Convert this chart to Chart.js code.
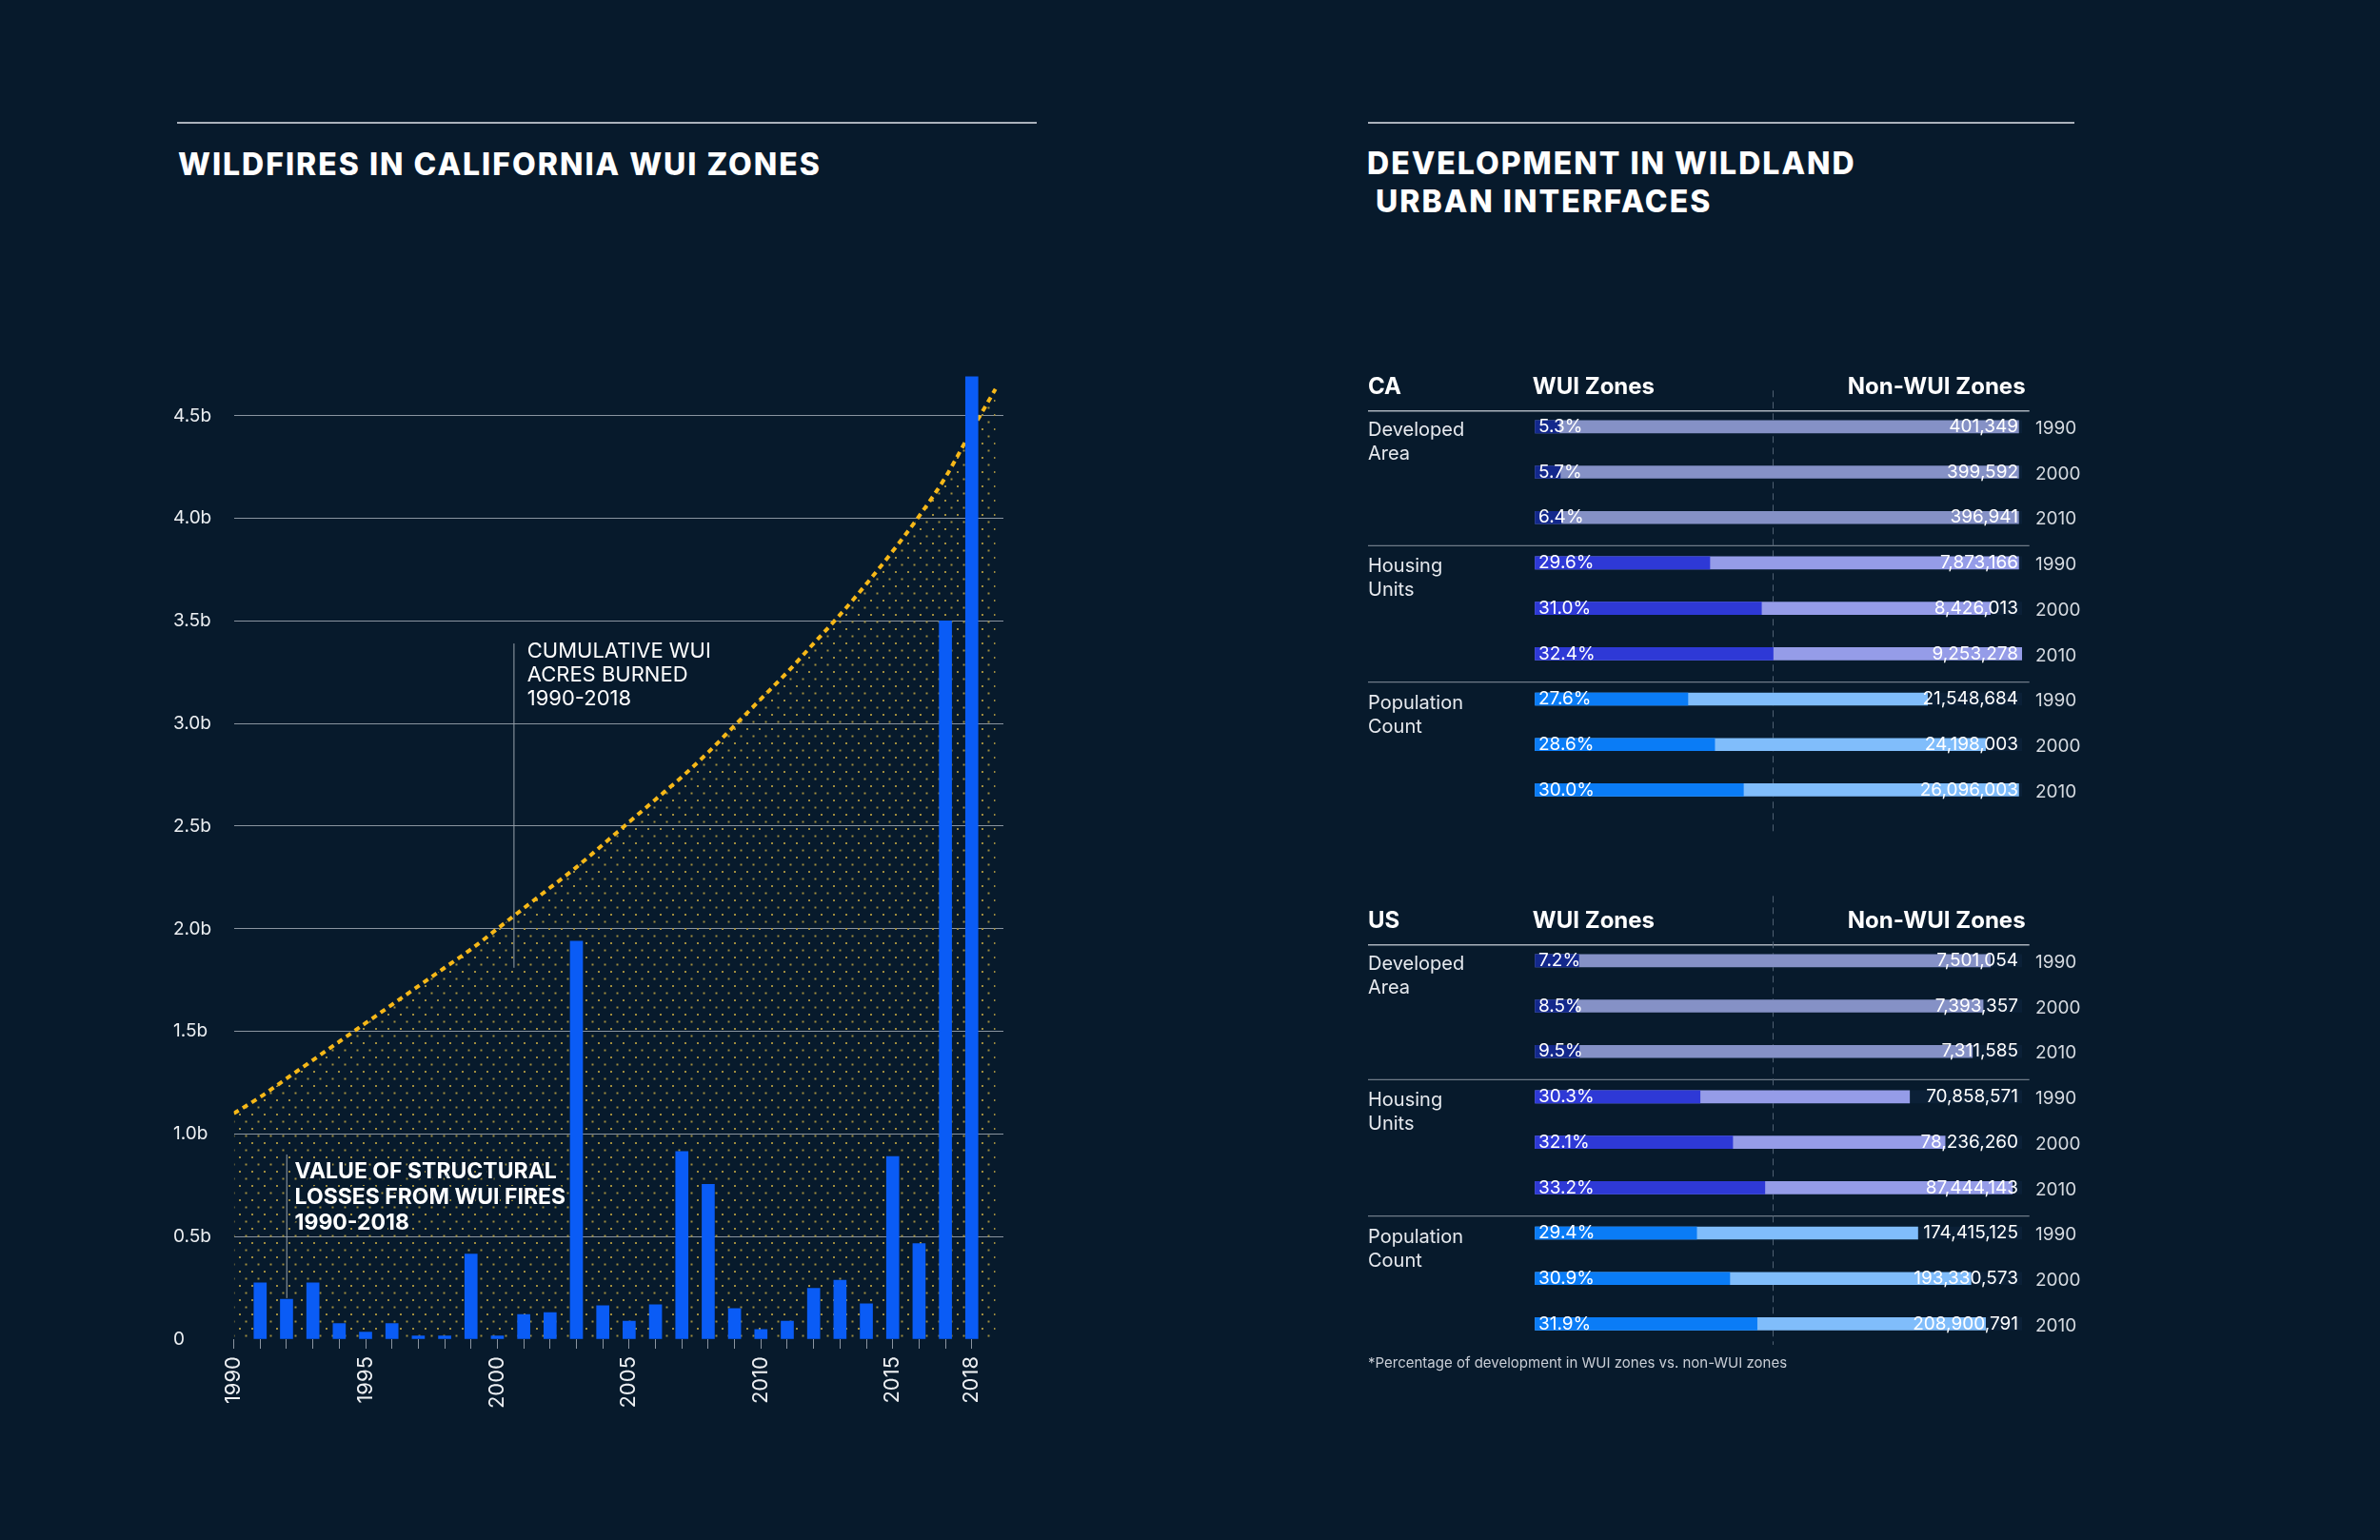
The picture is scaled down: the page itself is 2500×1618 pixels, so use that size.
<!DOCTYPE html>
<html>
<head>
<meta charset="utf-8">
<script src="https://cdn.jsdelivr.net/npm/chart.js@4.4.1/dist/chart.umd.min.js"></script>
<style>
  body { margin: 0; background: #071a2c; width: 2500px; height: 1618px; position: relative; overflow: hidden; font-family: Inter, "Noto Sans", sans-serif; }
  .rule { position: absolute; height: 2px; background: #aab2bc; }
  .title { position: absolute; color: #fff; font-weight: 800; font-size: 32px; letter-spacing: 2px; line-height: 40px; white-space: pre; }
  .box { position: absolute; }
  .note { position: absolute; color: #c9ced6; font-size: 15px; line-height: 18px; }
</style>
</head>
<body>
<div class="rule" style="left:186px;top:128px;width:903px"></div>
<div class="title" style="left:187px;top:153px">WILDFIRES IN CALIFORNIA WUI ZONES</div>
<div class="rule" style="left:1437px;top:128px;width:742px"></div>
<div class="title" style="left:1436px;top:152px">DEVELOPMENT IN WILDLAND
 URBAN INTERFACES</div>

<div class="box" style="left:160px;top:360px"><canvas id="lossChart" width="920" height="1140"></canvas></div>
<div class="box" style="left:1420px;top:380px"><canvas id="caChart" width="800" height="500"></canvas></div>
<div class="box" style="left:1420px;top:941px"><canvas id="usChart" width="800" height="500"></canvas></div>
<div class="note" style="left:1437px;top:1423px">*Percentage of development in WUI zones vs. non-WUI zones</div>

<script>
// ---- left chart data (values in billions) ----
const lossYears = [1991, 1992, 1993, 1994, 1995, 1996, 1997, 1998, 1999, 2000, 2001, 2002, 2003, 2004,
  2005, 2006, 2007, 2008, 2009, 2010, 2011, 2012, 2013, 2014, 2015, 2016, 2017, 2018];
const lossValues = [0.275, 0.194, 0.275, 0.076, 0.034, 0.076, 0.016, 0.016, 0.415, 0.016, 0.12, 0.13, 1.94, 0.163,
  0.088, 0.168, 0.915, 0.755, 0.149, 0.047, 0.088, 0.248, 0.287, 0.172, 0.89, 0.466, 3.50, 4.69];
const curveYears = [1990, 1991, 1992, 1993, 1994, 1995, 1996, 1997, 1998, 1999, 2000, 2001, 2002, 2003, 2004,
  2005, 2006, 2007, 2008, 2009, 2010, 2011, 2012, 2013, 2014, 2015, 2016, 2017, 2018, 2018.9];
const curveValues = [1.10, 1.18, 1.27, 1.36, 1.45, 1.54, 1.63, 1.72, 1.81, 1.90, 2.00, 2.10, 2.20, 2.30, 2.41,
  2.52, 2.63, 2.74, 2.86, 2.99, 3.12, 3.25, 3.39, 3.53, 3.68, 3.84, 4.01, 4.20, 4.43, 4.63];
const yTickValues = [0, 0.5, 1.0, 1.5, 2.0, 2.5, 3.0, 3.5, 4.0, 4.5];
const yTickLabels = ["0", "0.5b", "1.0b", "1.5b", "2.0b", "2.5b", "3.0b", "3.5b", "4.0b", "4.5b"];
const tickYears = [1990, ...lossYears];
const xLabelYears = [1990, 1995, 2000, 2005, 2010, 2015, 2018];

// ---- right panel data ----
const groupNames = [["Developed", "Area"], ["Housing", "Units"], ["Population", "Count"]];
const rowYears = ["1990", "2000", "2010", "1990", "2000", "2010", "1990", "2000", "2010"];
const caPct = [5.3, 5.7, 6.4, 29.6, 31.0, 32.4, 27.6, 28.6, 30.0];
const caNonWui = [401349, 399592, 396941, 7873166, 8426013, 9253278, 21548684, 24198003, 26096003];
const caWuiBar = [5.0, 5.2, 5.4, 35.9, 46.5, 48.9, 31.4, 36.9, 42.8];
const caNonBar = [99.3, 99.3, 99.3, 99.3, 93.5, 100, 80.6, 92.5, 99.3];
const usPct = [7.2, 8.5, 9.5, 30.3, 32.1, 33.2, 29.4, 30.9, 31.9];
const usNonWui = [7501054, 7393357, 7311585, 70858571, 78236260, 87444143, 174415125, 193330573, 208900791];
const usWuiBar = [9.0, 8.5, 9.1, 33.9, 40.6, 47.2, 33.2, 40.0, 45.6];
const usNonBar = [93.5, 92.0, 89.8, 76.9, 84.2, 98.0, 78.6, 89.5, 92.5];

Chart.defaults.font.family = 'Inter, "Noto Sans", sans-serif';
const FONT = 'Inter, "Noto Sans", sans-serif';

function dotPattern() {
  const c = document.createElement("canvas");
  c.width = 13; c.height = 15;
  const g = c.getContext("2d");
  g.fillStyle = "#a08d3e";
  g.fillRect(0, 0, 2, 2);
  g.fillRect(6.5, 7.5, 2, 2);
  return g.createPattern(c, "repeat");
}

const leftNotes = {
  id: "leftNotes",
  afterDatasetsDraw(chart) {
    const { ctx, scales: { x, y } } = chart;
    ctx.save();
    ctx.strokeStyle = "#9aa3ad";
    ctx.lineWidth = 1;
    ctx.beginPath();
    ctx.moveTo(x.getPixelForValue(2000.63), y.getPixelForValue(3.39));
    ctx.lineTo(x.getPixelForValue(2000.63), y.getPixelForValue(1.81));
    ctx.moveTo(x.getPixelForValue(1992.01), y.getPixelForValue(0.90));
    ctx.lineTo(x.getPixelForValue(1992.01), y.getPixelForValue(0.20));
    ctx.stroke();

    ctx.textBaseline = "middle";
    ctx.textAlign = "left";
    ctx.fillStyle = "#ffffff";
    ctx.font = "22px " + FONT;
    ["CUMULATIVE WUI", "ACRES BURNED", "1990-2018"].forEach((t, i) => {
      ctx.fillText(t, x.getPixelForValue(2001.13), y.getPixelForValue(3.352 - i * 0.116));
    });

    ctx.font = "bold 23px " + FONT;
    ctx.lineWidth = 4;
    ctx.strokeStyle = "#071a2c";
    ["VALUE OF STRUCTURAL", "LOSSES FROM WUI FIRES", "1990-2018"].forEach((t, i) => {
      const px = x.getPixelForValue(1992.31), py = y.getPixelForValue(0.818 - i * 0.126);
      ctx.strokeText(t, px, py);
      ctx.fillText(t, px, py);
    });
    ctx.restore();
  }
};

new Chart(document.getElementById("lossChart"), {
  type: "bar",
  data: {
    datasets: [
      {
        type: "bar",
        label: "Value of structural losses",
        data: lossYears.map((yr, i) => ({ x: yr, y: lossValues[i] })),
        backgroundColor: "#0a5cf6",
        barThickness: 13
      },
      {
        type: "line",
        label: "Cumulative WUI acres burned",
        data: curveYears.map((yr, i) => ({ x: yr, y: curveValues[i] })),
        borderColor: "#f7b818",
        borderWidth: 4,
        borderDash: [6, 5],
        cubicInterpolationMode: "monotone",
        pointRadius: 0,
        fill: "origin",
        backgroundColor: dotPattern()
      }
    ]
  },
  options: {
    responsive: false,
    animation: false,
    layout: { padding: { left: 22, right: 26, top: 12.1, bottom: 13 } },
    plugins: { legend: { display: false }, tooltip: { enabled: false } },
    scales: {
      x: {
        type: "linear",
        min: 1990,
        max: 2019.2,
        offset: false,
        afterBuildTicks: s => { s.ticks = tickYears.map(v => ({ value: v })); },
        afterFit: s => { s.height = 80; },
        grid: { offset: false, drawOnChartArea: false, drawTicks: true, tickLength: 10, color: "#8a94a0" },
        border: { display: false },
        ticks: {
          autoSkip: false, minRotation: 90, maxRotation: 90, padding: 8,
          color: "#eef0f3", font: { size: 22 },
          callback: v => xLabelYears.includes(v) ? String(v) : ""
        }
      },
      y: {
        min: 0,
        max: 4.8,
        afterBuildTicks: s => { s.ticks = yTickValues.map(v => ({ value: v })); },
        afterFit: s => { s.width = 63.6; },
        grid: { color: c => c.tick && c.tick.value === 0 ? "rgba(0,0,0,0)" : "#8a94a0", drawTicks: false, lineWidth: 1 },
        border: { display: false },
        ticks: { crossAlign: "far", padding: 0, color: "#eceff2", font: { size: 19 }, callback: (v, i) => yTickLabels[i] }
      }
    }
  },
  plugins: [leftNotes]
});

// ---- right panel ----
const darkColors = ["#13288c", "#13288c", "#13288c", "#2e39d6", "#2e39d6", "#2e39d6", "#0a7cf6", "#0a7cf6", "#0a7cf6"];
const lightColors = ["#8591c6", "#8591c6", "#8591c6", "#959ce8", "#959ce8", "#959ce8", "#80bdfb", "#80bdfb", "#80bdfb"];

const panelPlugin = {
  id: "panel",
  beforeDatasetsDraw(chart, args, o) {
    const { ctx, scales: { x, y } } = chart;
    const r0 = y.getPixelForValue(0), r8 = y.getPixelForValue(8);
    const left = x.getPixelForValue(0) - 175.3, right = x.getPixelForValue(100) + 7.7;
    ctx.save();
    ctx.strokeStyle = "#aab2bc";
    ctx.lineWidth = 1.5;
    ctx.beginPath();
    ctx.moveTo(left, r0 - 16.6); ctx.lineTo(right, r0 - 16.6);
    ctx.stroke();
    ctx.strokeStyle = "#6f7b88";
    ctx.lineWidth = 1.2;
    ctx.beginPath();
    [3, 6].forEach(i => {
      const yy = y.getPixelForValue(i) - 18;
      ctx.moveTo(left, yy); ctx.lineTo(right, yy);
    });
    ctx.stroke();
    const dx = Math.round(x.getPixelForValue(48.85)) + 0.5;
    ctx.setLineDash([7, 5]);
    ctx.strokeStyle = "#4f6072";
    ctx.lineWidth = 1;
    ctx.beginPath();
    ctx.moveTo(dx, r0 + o.dashTop); ctx.lineTo(dx, r8 + o.dashBottom);
    ctx.stroke();
    ctx.restore();
  },
  afterDatasetsDraw(chart, args, o) {
    const { ctx, scales: { x, y } } = chart;
    const r0 = y.getPixelForValue(0);
    const x0 = x.getPixelForValue(0), x100 = x.getPixelForValue(100);
    const left = x0 - 175.3;
    ctx.save();
    ctx.textBaseline = "middle";
    ctx.fillStyle = "#ffffff";
    ctx.font = "bold 24px " + FONT;
    ctx.textAlign = "left";
    ctx.fillText(o.region, left, r0 - 41.6);
    ctx.fillText("WUI Zones", x0 - 2.5, r0 - 41.6);
    ctx.textAlign = "right";
    ctx.fillText("Non-WUI Zones", x100 + 3.6, r0 - 41.6);

    ctx.textAlign = "left";
    ctx.fillStyle = "#e6e9ee";
    ctx.font = "20px " + FONT;
    groupNames.forEach((g, i) => {
      const yy = y.getPixelForValue(i * 3);
      ctx.fillText(g[0], left, yy + 4);
      ctx.fillText(g[1], left, yy + 29);
    });

    ctx.font = "19px " + FONT;
    o.pct.forEach((p, i) => {
      const yy = y.getPixelForValue(i);
      ctx.fillStyle = "#ffffff";
      ctx.textAlign = "left";
      ctx.fillText(p.toFixed(1) + "%", x0 + 3.7, yy);
      ctx.textAlign = "right";
      ctx.fillText(o.nonWui[i].toLocaleString("en-US"), x100 - 4, yy);
      ctx.textAlign = "left";
      ctx.fillStyle = "#d5dae0";
      ctx.fillText(rowYears[i], x100 + 14, yy + 2);
    });
    ctx.restore();
  }
};

function panelChart(id, region, wuiBar, nonBar, pct, nonWui, dashTop, dashBottom) {
  return new Chart(document.getElementById(id), {
    type: "bar",
    data: {
      labels: rowYears,
      datasets: [
        { label: "WUI", data: wuiBar, backgroundColor: darkColors },
        { label: "Non-WUI", data: nonBar, backgroundColor: lightColors },
        { label: "track", data: rowYears.map(() => 100), backgroundColor: "#0b2037" }
      ]
    },
    options: {
      indexAxis: "y",
      responsive: false,
      animation: false,
      layout: { padding: { left: 192.3, right: 96, top: 44.45, bottom: 26.2 } },
      datasets: { bar: { grouped: false, barThickness: 13 } },
      plugins: {
        legend: { display: false },
        tooltip: { enabled: false },
        panel: { region, pct, nonWui, dashTop, dashBottom }
      },
      scales: {
        x: { display: false, min: 0, max: 100 },
        y: { display: false }
      }
    },
    plugins: [panelPlugin]
  });
}

panelChart("caChart", "CA", caWuiBar, caNonBar, caPct, caNonWui, -38, 46);
panelChart("usChart", "US", usWuiBar, usNonBar, usPct, usNonWui, -68, 22);
</script>
</body>
</html>
